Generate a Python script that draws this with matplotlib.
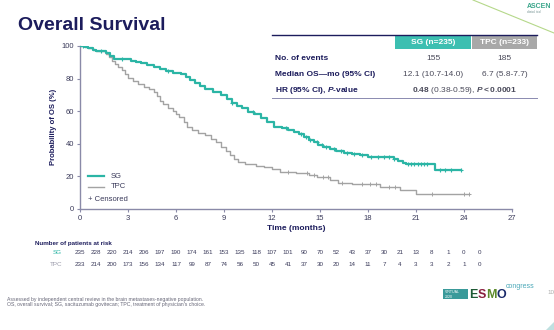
import matplotlib
matplotlib.use("Agg")
import matplotlib.pyplot as plt
from matplotlib.patches import Rectangle, Polygon
from matplotlib.lines import Line2D
from matplotlib.transforms import blended_transform_factory

plt.rcParams['font.family'] = ['Liberation Sans', 'DejaVu Sans']
plt.rcParams['mathtext.fontset'] = 'custom'
plt.rcParams['mathtext.rm'] = 'Liberation Sans'
plt.rcParams['mathtext.bf'] = 'Liberation Sans:bold'
plt.rcParams['mathtext.it'] = 'Liberation Sans:italic'
plt.rcParams['mathtext.bfit'] = 'Liberation Sans:italic:bold'

NAVY = '#1c1c5c'
TEAL = '#2bb5a5'
GREY = '#a3a3a3'
AXC = '#8a8aa8'
TXT = '#3a3a5a'

# Kaplan-Meier steps (months, % alive)
sg_t = [0, 0.3, 0.5, 0.8, 1.0, 1.6, 1.9, 2.1, 3.2, 3.5, 3.8, 4.2, 4.6, 5.0, 5.4, 5.8, 6.3,
        6.6, 6.9, 7.2, 7.5, 7.8, 8.3, 8.8, 9.2, 9.5, 9.8, 10.1, 10.5, 10.9, 11.3, 11.7, 12.1,
        12.6, 13.0, 13.4, 13.7, 14.0, 14.3, 14.6, 14.9, 15.2, 15.6, 16.0, 16.5, 17.0, 17.5,
        18.0, 19.6, 19.9, 20.2, 20.4, 22.2, 23.8]
sg_s = [100, 99.2, 98.5, 97.6, 96.8, 95.5, 93.8, 92.0, 91.0, 90.0, 89.3, 88.3, 87.2, 85.9,
        84.8, 83.3, 82.6, 81.0, 79.2, 77.0, 75.2, 73.5, 71.5, 69.8, 67.2, 65.0, 62.9, 61.8,
        59.7, 57.9, 56.0, 53.2, 50.0, 49.4, 48.6, 47.4, 46.0, 44.2, 42.5, 40.8, 39.3, 38.1,
        36.8, 35.2, 34.3, 33.8, 32.8, 31.6, 30.8, 29.6, 28.3, 27.3, 23.8, 23.8]
tpc_t = [0, 0.3, 0.5, 0.8, 1.0, 1.6, 1.8, 2.0, 2.2, 2.4, 2.6, 2.8, 3.0, 3.3, 3.6, 4.0, 4.3,
         4.6, 4.8, 5.0, 5.2, 5.5, 5.8, 6.0, 6.2, 6.5, 6.7, 7.0, 7.4, 7.8, 8.2, 8.5, 8.8, 9.1,
         9.4, 9.6, 9.9, 10.3, 11.0, 11.5, 12.0, 12.5, 13.5, 14.3, 14.8, 15.6, 16.1, 17.0,
         18.75, 20.0, 21.0, 24.3]
tpc_s = [100, 99.2, 98.5, 97.6, 96.8, 95.0, 93.0, 91.0, 89.0, 87.0, 85.0, 83.0, 80.5, 78.5,
         76.5, 74.5, 73.5, 71.5, 69.0, 66.5, 64.5, 62.0, 60.0, 58.0, 56.5, 53.0, 50.0, 48.5,
         46.5, 45.0, 43.0, 41.0, 38.0, 35.5, 33.0, 30.5, 28.5, 27.5, 26.5, 25.5, 24.2, 22.7,
         21.7, 20.7, 19.7, 17.6, 16.0, 15.2, 13.5, 11.5, 9.0, 9.0]

# censoring times
sg_cens = [0.2, 1.3, 2.6, 5.5, 9.5, 10.8, 12.9, 13.8, 14.1, 14.4, 14.8, 15.1, 15.4, 15.9,
           16.3, 16.7, 17.1, 17.6, 18.2, 18.6, 19.0, 19.3, 19.6, 20.5, 20.7, 20.9, 21.1,
           21.3, 21.5, 21.7, 22.5, 22.8, 23.2, 23.8]
tpc_cens = [13.0, 14.2, 14.6, 15.2, 15.5, 16.4, 17.6, 18.1, 18.5, 19.3, 19.7, 22.0, 24.0, 24.3]

# patients at risk, months 0..25
months = list(range(26))
sg_risk = [235, 228, 220, 214, 206, 197, 190, 174, 161, 153, 135, 118, 107, 101, 90, 70, 52,
           43, 37, 30, 21, 13, 8, 1, 0, 0]
tpc_risk = [233, 214, 200, 173, 156, 134, 117, 99, 87, 74, 56, 50, 45, 41, 37, 30, 20, 14, 11,
            7, 4, 3, 3, 2, 1, 0]

# summary table
tbl_rows = ['No. of events', 'Median OS\u2014mo (95% CI)', r'HR (95% CI), $\mathbfit{P}$-value']
sg_vals = ['155', '12.1 (10.7-14.0)']
tpc_vals = ['185', '6.7 (5.8-7.7)']
hr_text = r'$\mathbf{0.48}$ (0.38-0.59), $\mathbfit{P}\mathbf{<0.0001}$'


def surv_at(ts, ss, x):
    v = ss[0]
    for t, s in zip(ts, ss):
        if t <= x:
            v = s
    return v


W, H = 554, 330
fig = plt.figure(figsize=(W / 100, H / 100), dpi=100)
fig.patch.set_facecolor('white')


def px(x, y):
    return x / W, 1 - y / H


ax = fig.add_axes([80 / W, 1 - 208.7 / H, 432 / W, 162.7 / H])
ax.step(tpc_t, tpc_s, where='post', color=GREY, lw=1.0, zorder=2)
ax.step(sg_t, sg_s, where='post', color=TEAL, lw=1.6, zorder=3)
ax.plot(tpc_cens, [surv_at(tpc_t, tpc_s, c) for c in tpc_cens], ls='none', marker='+',
        ms=3.5, mew=0.7, color=GREY, zorder=2)
ax.plot(sg_cens, [surv_at(sg_t, sg_s, c) for c in sg_cens], ls='none', marker='+',
        ms=3.5, mew=0.8, color=TEAL, zorder=3)

ax.set_xlim(0, 27)
ax.set_ylim(0, 100)
ax.set_xticks(range(0, 28, 3))
ax.set_yticks(range(0, 101, 20))
for s in ['top', 'right']:
    ax.spines[s].set_visible(False)
for s in ['left', 'bottom']:
    ax.spines[s].set_color(AXC)
    ax.spines[s].set_linewidth(1.0)
ax.tick_params(colors=AXC, labelcolor=TXT, labelsize=5.5, length=2.5, width=0.8, pad=2)
ax.set_xlabel('Time (months)', fontsize=6, fontweight='bold', color=NAVY, labelpad=2)
ax.set_ylabel('Probability of OS (%)', fontsize=5.5, fontweight='bold', color=NAVY, labelpad=3)

# legend
ax.add_line(Line2D([0.5, 1.5], [20, 20], color=TEAL, lw=1.6))
ax.add_line(Line2D([0.5, 1.5], [13.5, 13.5], color=GREY, lw=1.0))
ax.text(1.9, 20, 'SG', fontsize=5.5, color=TXT, va='center')
ax.text(1.9, 13.5, 'TPC', fontsize=5.5, color=TXT, va='center')
ax.text(0.5, 5.5, '+ Censored', fontsize=5.5, color=TXT, va='center')

# title
fig.text(*px(18, 26), 'Overall Survival', fontsize=14, fontweight='bold', color=NAVY, va='center')

# at-risk table
tr = blended_transform_factory(ax.transData, fig.transFigure)
fig.text(*px(35, 243), 'Number of patients at risk', fontsize=4.5, fontweight='bold',
         color=NAVY, va='center')
fig.text(*px(62, 253), 'SG', fontsize=4.5, color=TEAL, va='center', ha='right')
fig.text(*px(62, 264), 'TPC', fontsize=4.5, color='#9a9aaa', va='center', ha='right')
for m, a, b in zip(months, sg_risk, tpc_risk):
    ax.text(m, 1 - 253 / H, str(a), transform=tr, fontsize=4.5, color=TXT, ha='center', va='center')
    ax.text(m, 1 - 264 / H, str(b), transform=tr, fontsize=4.5, color=TXT, ha='center', va='center')

# summary table
fig.add_artist(Rectangle(px(395, 49), 76 / W, 14 / H, transform=fig.transFigure,
                         facecolor='#3cbfb1', edgecolor='none'))
fig.add_artist(Rectangle(px(472, 49), 65 / W, 14 / H, transform=fig.transFigure,
                         facecolor='#a8a8a8', edgecolor='none'))
fig.add_artist(Line2D([272 / W, 537 / W], [1 - 35 / H] * 2, transform=fig.transFigure,
                      color=NAVY, lw=1.0))
fig.add_artist(Line2D([272 / W, 537 / W], [1 - 98 / H] * 2, transform=fig.transFigure,
                      color='#8a8ab0', lw=0.7))
fig.text(*px(433, 42.5), 'SG (n=235)', fontsize=6, fontweight='bold', color='white',
         ha='center', va='center')
fig.text(*px(504.5, 42.5), 'TPC (n=233)', fontsize=6, fontweight='bold', color='white',
         ha='center', va='center')
for i, y in enumerate([59, 74, 91]):
    fig.text(*px(275, y), tbl_rows[i], fontsize=6, fontweight='bold', color=NAVY, va='center')
for i, y in enumerate([59, 74]):
    fig.text(*px(433, y), sg_vals[i], fontsize=6, color='#4a4a5a', ha='center', va='center')
    fig.text(*px(504.5, y), tpc_vals[i], fontsize=6, color='#4a4a5a', ha='center', va='center')
fig.text(*px(464, 91), hr_text, fontsize=6, color='#4a4a5a', ha='center', va='center')

# footnote
fig.text(*px(7, 299), 'Assessed by independent central review in the brain metastases-negative population.',
         fontsize=3.7, color='#666677', va='center')
fig.text(*px(7, 304.5), "OS, overall survival; SG, sacituzumab govitecan; TPC, treatment of physician's choice.",
         fontsize=3.7, color='#666677', va='center')

# header decoration
fig.add_artist(Line2D([473 / W, 554 / W], [1.0, 1 - 33 / H], transform=fig.transFigure,
                      color='#b5d88a', lw=0.8))
fig.text(*px(527, 6), 'ASCEN', fontsize=5, fontweight='bold', color='#3aa58a', va='center')
fig.text(*px(527, 12), 'clinical trial', fontsize=2, color='#6a8a8a', va='center')

# congress badge
fig.add_artist(Rectangle(px(443, 299), 25 / W, 10 / H, transform=fig.transFigure,
                         facecolor='#3a9a9a', edgecolor='none'))
fig.text(*px(445, 292), 'VIRTUAL', fontsize=2.6, color='white', va='center')
fig.text(*px(445, 296.5), '2020', fontsize=2.6, color='white', va='center')
for ch, x, c in zip('ESMO', [469, 477.5, 486, 496.5], ['#1e5a35', '#8a1f3f', '#5c8a2a', '#1a2a6a']):
    fig.text(*px(x, 294.5), ch, fontsize=9, fontweight='bold', color=c, va='center')
fig.text(*px(506, 287), 'congress', fontsize=5, color='#4aa8b8', va='center')
fig.text(*px(547, 293), '10', fontsize=4.5, color='#aaaaaa', va='center')
fig.add_artist(Polygon([px(554, 322), px(554, 330), px(546, 330)], closed=True,
                       transform=fig.transFigure, facecolor='#bfe0e0', edgecolor='none'))

fig.savefig('out.png', dpi=100)
